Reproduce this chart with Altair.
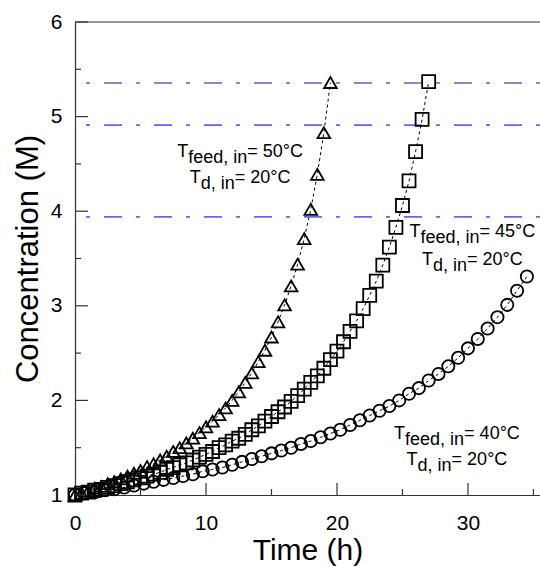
import altair as alt
import pandas as pd

FONT = "Liberation Sans"

# Sampling times (h) and concentrations (M) for each feed inlet temperature
time_50 = [0.0, 0.5, 1.0, 1.5, 2.0, 2.5, 3.0, 3.5, 4.0, 4.5, 5.0, 5.5, 6.0, 6.5,
           7.0, 7.5, 8.0, 8.5, 9.0, 9.5, 10.0, 10.5, 11.0, 11.5, 12.0, 12.5, 13.0,
           13.5, 14.0, 14.5, 15.0, 15.5, 16.0, 16.5, 17.0, 17.5, 18.0, 18.5, 19.0, 19.5]
conc_50 = [1.00, 1.02, 1.04, 1.07, 1.09, 1.12, 1.14, 1.17, 1.20, 1.23, 1.26, 1.30,
           1.33, 1.37, 1.41, 1.46, 1.50, 1.55, 1.60, 1.66, 1.72, 1.78, 1.85, 1.92,
           2.00, 2.09, 2.19, 2.29, 2.41, 2.53, 2.67, 2.83, 3.01, 3.21, 3.44, 3.71,
           4.02, 4.39, 4.83, 5.36]

time_45 = [0.0, 0.5, 1.0, 1.5, 2.0, 2.5, 3.0, 3.5, 4.0, 4.5, 5.0, 5.5, 6.0, 6.5,
           7.0, 7.5, 8.0, 8.5, 9.0, 9.5, 10.0, 10.5, 11.0, 11.5, 12.0, 12.5, 13.0,
           13.5, 14.0, 14.5, 15.0, 15.5, 16.0, 16.5, 17.0, 17.5, 18.0, 18.5, 19.0,
           19.5, 20.0, 20.5, 21.0, 21.5, 22.0, 22.5, 23.0, 23.5, 24.0, 24.5, 25.0,
           25.5, 26.0, 26.5, 27.0]
conc_45 = [1.00, 1.02, 1.03, 1.05, 1.06, 1.08, 1.10, 1.12, 1.14, 1.16, 1.18, 1.20,
           1.22, 1.24, 1.27, 1.29, 1.32, 1.34, 1.37, 1.40, 1.43, 1.46, 1.50, 1.53,
           1.57, 1.60, 1.64, 1.69, 1.73, 1.78, 1.83, 1.88, 1.93, 1.99, 2.05, 2.12,
           2.19, 2.26, 2.34, 2.43, 2.52, 2.62, 2.73, 2.84, 2.97, 3.11, 3.26, 3.43,
           3.62, 3.83, 4.06, 4.32, 4.63, 4.97, 5.37]

time_40 = [0.0, 0.75, 1.5, 2.25, 3.0, 3.75, 4.5, 5.25, 6.0, 6.75, 7.5, 8.25, 9.0,
           9.75, 10.5, 11.25, 12.0, 12.75, 13.5, 14.25, 15.0, 15.75, 16.5, 17.25,
           18.0, 18.75, 19.5, 20.25, 21.0, 21.75, 22.5, 23.25, 24.0, 24.75, 25.5,
           26.25, 27.0, 27.75, 28.5, 29.25, 30.0, 30.75, 31.5, 32.25, 33.0, 33.75, 34.5]
conc_40 = [1.00, 1.02, 1.03, 1.05, 1.06, 1.08, 1.10, 1.12, 1.14, 1.16, 1.18, 1.20,
           1.22, 1.25, 1.27, 1.29, 1.32, 1.35, 1.38, 1.41, 1.44, 1.47, 1.50, 1.54,
           1.57, 1.61, 1.65, 1.69, 1.74, 1.79, 1.84, 1.89, 1.94, 2.00, 2.07, 2.13,
           2.21, 2.28, 2.36, 2.45, 2.55, 2.65, 2.76, 2.88, 3.01, 3.16, 3.31]

# Horizontal reference concentrations
ref_levels = [5.355, 4.91, 3.94]
ref_colors = ["#16168f", "#6464ff", "#6464ff"]
ref_widths = [1.2, 1.8, 1.8]

# Axis ticks
x_labels = [0, 10, 20, 30]
x_major = [10, 20, 30]
x_minor = [5, 15, 25, 35]
y_labels = [1, 2, 3, 4, 5, 6]
y_major = [1, 2, 3, 4, 5, 6]
y_minor = [1.5, 2.5, 3.5, 4.5, 5.5]

W, H = 465, 473
x_scale = alt.Scale(domain=[0, 35.5], nice=False, zero=False)
y_scale = alt.Scale(domain=[1, 6], nice=False, zero=False)

x_axis = alt.Axis(values=x_labels, format="d", ticks=False, tickSize=0, grid=False,
                  labelFont=FONT, labelFontSize=21, labelColor="black",
                  labelPadding=17, labelFlush=False,
                  domainColor="#333333", domainWidth=1.2,
                  title="Time (h)", titleFont=FONT, titleFontSize=30,
                  titleFontWeight="normal", titleColor="black",
                  titleX=W / 2, titleY=64, titleAlign="center",
                  titleBaseline="alphabetic")
y_axis = alt.Axis(values=y_labels, format="d", ticks=False, tickSize=0, grid=False,
                  labelFont=FONT, labelFontSize=21, labelColor="black",
                  labelPadding=13, labelFlush=False,
                  domainColor="#333333", domainWidth=1.2,
                  title="Concentration (M)", titleFont=FONT, titleFontSize=31,
                  titleFontWeight="normal", titleColor="black",
                  titleAngle=270, titleX=-38, titleY=H / 2, titleAlign="center",
                  titleBaseline="alphabetic")


def xq(field):
    return alt.X(f"{field}:Q", scale=x_scale, axis=x_axis)


def yq(field):
    return alt.Y(f"{field}:Q", scale=y_scale, axis=y_axis)


series_df = pd.concat([
    pd.DataFrame({"t": time_50, "c": conc_50, "series": "50"}),
    pd.DataFrame({"t": time_45, "c": conc_45, "series": "45"}),
    pd.DataFrame({"t": time_40, "c": conc_40, "series": "40"}),
])

# Dotted connecting curves
curves = alt.Chart(series_df).mark_line(
    color="black", strokeWidth=1, strokeDash=[3, 3]
).encode(x=xq("t"), y=yq("c"), detail="series:N")

marker_specs = [
    ("40", "circle", 150),
    ("45", "square", 169),
    ("50", "triangle-up", 160),
]
markers = [
    alt.Chart(series_df[series_df["series"] == key]).mark_point(
        shape=shape, size=size, filled=False, color="black",
        strokeWidth=1.8, opacity=1
    ).encode(x=xq("t"), y=yq("c"))
    for key, shape, size in marker_specs
]

ref_df = pd.DataFrame({"c": ref_levels, "col": ref_colors, "w": ref_widths})
ref_lines = alt.Chart(ref_df).mark_rule(strokeDash=[4, 14, 18, 14]).encode(
    y=yq("c"),
    color=alt.Color("col:N", scale=None),
    strokeWidth=alt.StrokeWidth("w:Q", scale=None),
)

# Inward tick marks and the top frame line
tick_color = "#333333"
y_major_ticks = alt.Chart(pd.DataFrame({"c": y_major})).mark_rule(
    color=tick_color, strokeWidth=1.2).encode(y=yq("c"), x=alt.value(0), x2=alt.value(13))
y_minor_ticks = alt.Chart(pd.DataFrame({"c": y_minor})).mark_rule(
    color=tick_color, strokeWidth=1.2).encode(y=yq("c"), x=alt.value(0), x2=alt.value(6))
x_major_ticks = alt.Chart(pd.DataFrame({"t": x_major})).mark_rule(
    color=tick_color, strokeWidth=1.2).encode(x=xq("t"), y=alt.value(H), y2=alt.value(H - 12))
x_minor_ticks = alt.Chart(pd.DataFrame({"t": x_minor})).mark_rule(
    color=tick_color, strokeWidth=1.2).encode(x=xq("t"), y=alt.value(H), y2=alt.value(H - 6))
top_frame = alt.Chart(pd.DataFrame({"v": [0]})).mark_rule(
    color=tick_color, strokeWidth=1.2).encode(y=alt.value(0), x=alt.value(0), x2=alt.value(W))

# Condition labels: "T" + subscript + value, each line centred on its anchor
ADV = {"T": 0.611, "f": 0.278, "e": 0.556, "d": 0.556, ",": 0.278, " ": 0.278,
       "i": 0.222, "n": 0.556, "=": 0.584, "0": 0.556, "2": 0.556, "4": 0.556,
       "5": 0.556, "°": 0.400, "C": 0.722}
MAIN_SIZE = 18
SUB_SIZE = 18
SUB_DROP = 6


def width(text, size):
    return sum(ADV.get(ch, 0.556) for ch in text) * size


annotations = [
    (12.6, 4.568, 26, [("feed, in", "= 50°C"), ("d, in", "= 20°C")]),
    (30.34, 3.727, 28, [("feed, in", "= 45°C"), ("d, in", "= 20°C")]),
    (29.16, 1.592, 26, [("feed, in", "= 40°C"), ("d, in", "= 20°C")]),
]

labels = []
for cx, cy, gap, rows in annotations:
    for j, (sub, rest) in enumerate(rows):
        pieces = [("T", MAIN_SIZE, 0), (sub, SUB_SIZE, SUB_DROP), (rest, MAIN_SIZE, 0)]
        total = sum(width(s, sz) for s, sz, _ in pieces)
        left = -total / 2
        for s, sz, drop in pieces:
            labels.append(
                alt.Chart(pd.DataFrame({"t": [cx], "c": [cy], "s": [s]})).mark_text(
                    align="left", baseline="alphabetic", font=FONT, fontSize=sz,
                    color="black", dx=left, dy=j * gap + drop
                ).encode(x=xq("t"), y=yq("c"), text="s:N")
            )
            left += width(s, sz)

chart = alt.layer(
    curves, ref_lines, *markers,
    y_major_ticks, y_minor_ticks, x_major_ticks, x_minor_ticks, top_frame,
    *labels,
).properties(
    width=W, height=H,
    autosize=alt.AutoSizeParams(type="none"),
    padding={"left": 75, "top": 22, "right": 0, "bottom": 72},
    background="white",
).configure_view(stroke=None)

chart.save("out.html", embed_options={"renderer": "svg", "actions": False})
